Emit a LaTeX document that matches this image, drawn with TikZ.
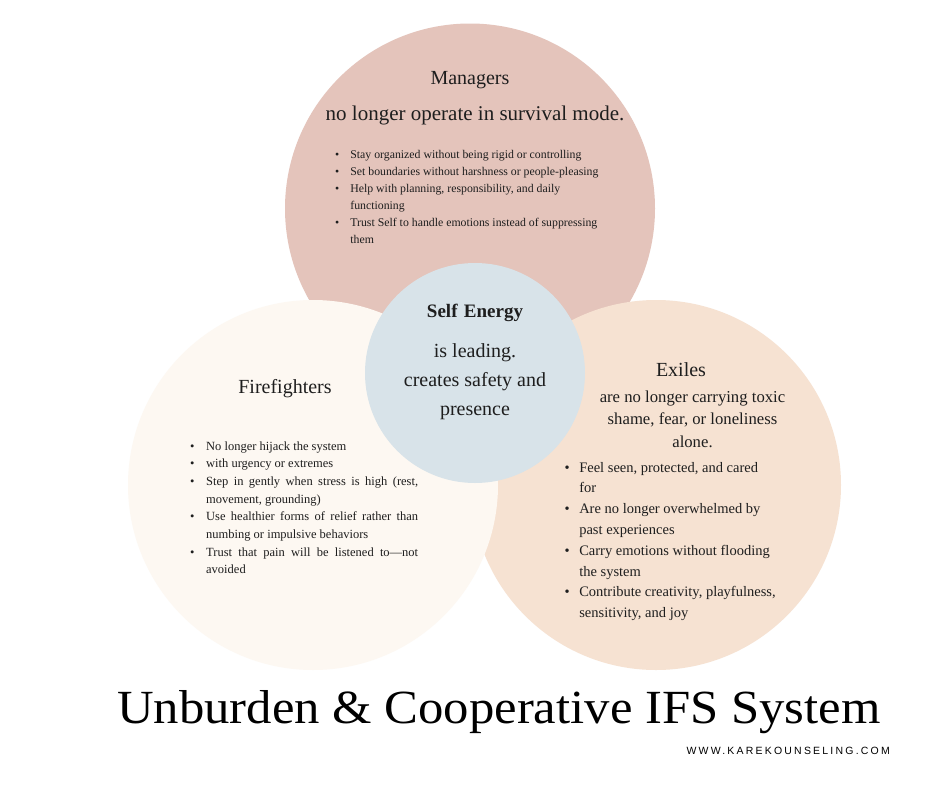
\documentclass[tikz,border=0pt]{standalone}
\usepackage{fontspec}
\usepackage{graphicx}
\setmainfont{Liberation Serif}
\newfontfamily\urlfont[LetterSpace=21]{Liberation Sans}
\definecolor{mgrc}{RGB}{228,196,187}
\definecolor{firec}{RGB}{253,248,242}
\definecolor{exic}{RGB}{246,226,210}
\definecolor{selfc}{RGB}{216,227,233}
\definecolor{ink}{RGB}{30,30,30}
\tikzset{
  bigcirc/.style={circle, minimum size=370pt, inner sep=0pt, draw=none},
  txt/.style={inner sep=0pt, anchor=base, text=ink},
  lst/.style={inner sep=0pt, anchor=base west, text=ink}
}
\begin{document}
\begin{tikzpicture}[x=1pt,y=-1pt]
\useasboundingbox (0,0) rectangle (940,788);
\fill[white] (0,0) rectangle (940,788);
% circles
\node[bigcirc, fill=mgrc] (mgr) at (470,208.5) {};
\node[bigcirc, fill=exic] (exi) at (656,485) {};
\node[bigcirc, fill=firec] (fire) at (313,485) {};
\node[circle, minimum size=220pt, inner sep=0pt, fill=selfc] (self) at (475,373) {};

% Managers
\node[txt] (mgrtitle) at (470,84) {\fontsize{20}{24}\selectfont Managers};
\node[txt] (mgrsub) at (475,120) {\fontsize{21}{25}\selectfont no longer operate in survival mode.};
\node[lst] (mgrlist) at (335,158) {\fontsize{11.8}{17}\selectfont
\begin{tabular}[t]{@{}c@{\hspace{11pt}}l@{}}
\textbullet & Stay organized without being rigid or controlling\\
\textbullet & Set boundaries without harshness or people-pleasing\\
\textbullet & Help with planning, responsibility, and daily\\
 & functioning\\
\textbullet & Trust Self to handle emotions instead of suppressing\\
 & them
\end{tabular}};

% Firefighters
\node[txt] (firetitle) at (285,393) {\fontsize{20}{24}\selectfont Firefighters};
\node[lst] (firelist) at (190,450) {\fontsize{12.5}{17.7}\selectfont
\begin{tabular}[t]{@{}c@{\hspace{11.6pt}}l@{}}
\textbullet & No longer hijack the system\\
\textbullet & with urgency or extremes\\
\textbullet & \makebox[212pt][s]{Step in gently when stress is high (rest,}\\
 & movement, grounding)\\
\textbullet & \makebox[212pt][s]{Use healthier forms of relief rather than}\\
 & numbing or impulsive behaviors\\
\textbullet & \makebox[212pt][s]{Trust that pain will be listened to---not}\\
 & avoided
\end{tabular}};

% Exiles
\node[txt] (exititle) at (681,376) {\fontsize{20}{24}\selectfont Exiles};
\node[txt] (exisub) at (692.5,402) {\fontsize{16.7}{22.5}\selectfont
\begin{tabular}[t]{@{}c@{}}
are no longer carrying toxic\\
shame, fear, or loneliness\\
alone.
\end{tabular}};
\node[lst] (exilist) at (564.5,472) {\fontsize{14.5}{20.8}\selectfont
\begin{tabular}[t]{@{}c@{\hspace{9.5pt}}l@{}}
\textbullet & Feel seen, protected, and cared\\
 & for\\
\textbullet & Are no longer overwhelmed by\\
 & past experiences\\
\textbullet & Carry emotions without flooding\\
 & the system\\
\textbullet & Contribute creativity, playfulness,\\
 & sensitivity, and joy
\end{tabular}};

% Self
\node[txt] (selftitle) at (475,317) {\fontsize{19}{24}\selectfont\bfseries Self\,\,Energy};
\node[txt] (selfsub) at (475,357) {\fontsize{20}{29}\selectfont
\begin{tabular}[t]{@{}c@{}}
is leading.\\
creates safety and\\
presence
\end{tabular}};

% Title
\node[lst, text=black] (title) at (117,723) {\resizebox{763pt}{33pt}{Unburden \& Cooperative IFS System}};
\node[inner sep=0pt, anchor=base east, text=black] (url) at (890,754) {\urlfont\fontsize{10.5}{12}\selectfont WWW.KAREKOUNSELING.COM};
\end{tikzpicture}
\end{document}
